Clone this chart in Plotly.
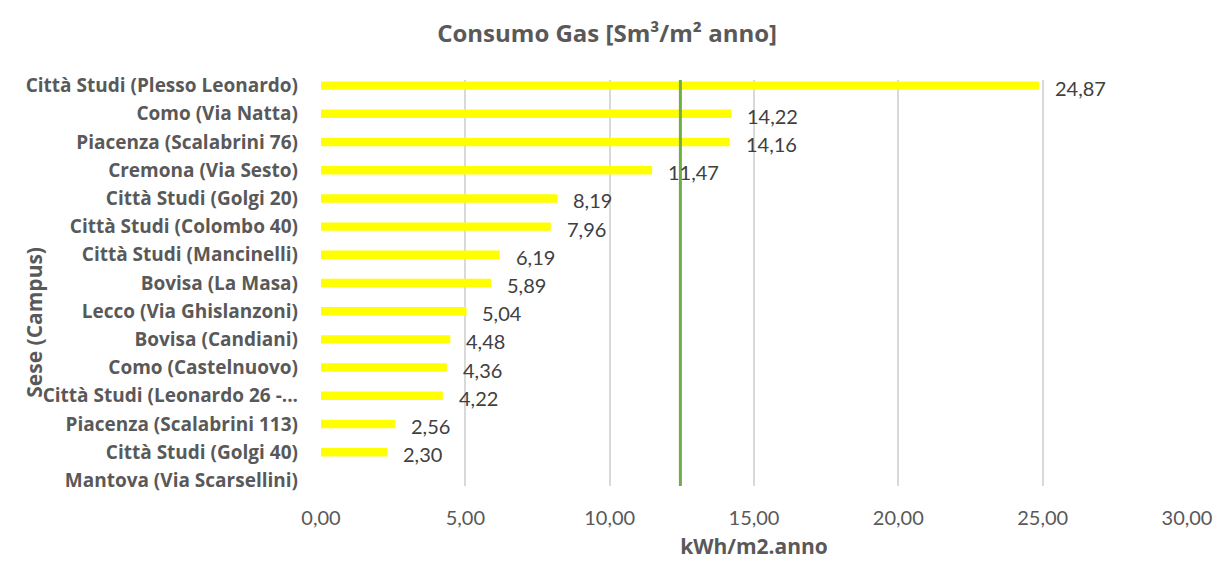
import plotly.graph_objects as go

categories = [
    "Città Studi (Plesso Leonardo)",
    "Como (Via Natta)",
    "Piacenza (Scalabrini 76)",
    "Cremona (Via Sesto)",
    "Città Studi (Golgi 20)",
    "Città Studi (Colombo 40)",
    "Città Studi (Mancinelli)",
    "Bovisa (La Masa)",
    "Lecco (Via Ghislanzoni)",
    "Bovisa (Candiani)",
    "Como (Castelnuovo)",
    "Città Studi (Leonardo 26 -...",
    "Piacenza (Scalabrini 113)",
    "Città Studi (Golgi 40)",
    "Mantova (Via Scarsellini)",
]
values = [24.87, 14.22, 14.16, 11.47, 8.19, 7.96, 6.19, 5.89, 5.04, 4.48, 4.36, 4.22, 2.56, 2.30, None]
reference_value = 12.45
x_ticks = [0, 5, 10, 15, 20, 25, 30]

FONT = "Lato"
BFONT = "Open Sans"
GRAY = "#595959"

fig = go.Figure()
fig.add_trace(go.Bar(
    x=values, y=list(range(len(categories))), orientation="h",
    marker=dict(color="#FFFF00", line=dict(width=0)),
    width=0.3, hoverinfo="skip",
))

for i, v in enumerate(values):
    if v is None:
        continue
    fig.add_annotation(
        x=v, y=i, xref="x", yref="y",
        text=f"{v:.2f}".replace(".", ","),
        showarrow=False, xanchor="left", yanchor="middle",
        xshift=14, yshift=-2,
        font=dict(family=FONT, size=20, color="#404040"),
    )

fig.add_shape(
    type="line", xref="x", yref="paper",
    x0=reference_value, x1=reference_value, y0=0, y1=1,
    line=dict(color="#70AD47", width=3), layer="above",
)

fig.add_annotation(
    text="<b>Sese (Campus)</b>", textangle=-90,
    xref="paper", yref="paper", x=-0.331, y=0.403,
    xanchor="center", yanchor="middle", showarrow=False,
    font=dict(family=BFONT, size=21, color=GRAY),
)

fig.update_layout(
    width=1224, height=567,
    paper_bgcolor="white", plot_bgcolor="white",
    margin=dict(l=321, r=26, t=80, b=75),
    separators=",.",
    showlegend=False,
    title=dict(
        text="<b>Consumo Gas [Sm³/m² anno]</b>",
        x=0.496, xanchor="center", y=0.94, yanchor="middle",
        font=dict(family=BFONT, size=24, color=GRAY),
    ),
    xaxis=dict(
        range=[0, 30], tickvals=x_ticks,
        ticktext=[f"{t:.2f}".replace(".", ",") for t in x_ticks],
        showgrid=True, gridcolor="#D9D9D9", gridwidth=1.5,
        zeroline=False, showline=False, ticks="",
        tickfont=dict(family=FONT, size=20, color=GRAY),
        ticklabelstandoff=18,
        title=dict(text="<b>kWh/m2.anno</b>", standoff=11,
                   font=dict(family=BFONT, size=21, color=GRAY)),
        fixedrange=True,
    ),
    yaxis=dict(
        range=[14.2, -0.2],
        tickvals=list(range(len(categories))), ticktext=categories,
        showgrid=False, zeroline=False, showline=False, ticks="",
        tickfont=dict(family=BFONT, size=19, color=GRAY, weight="bold"),
        ticklabelstandoff=22,
        fixedrange=True,
    ),
)

fig.write_html("out.html", config={"displayModeBar": False},
               post_script="document.body.style.margin='0';")
